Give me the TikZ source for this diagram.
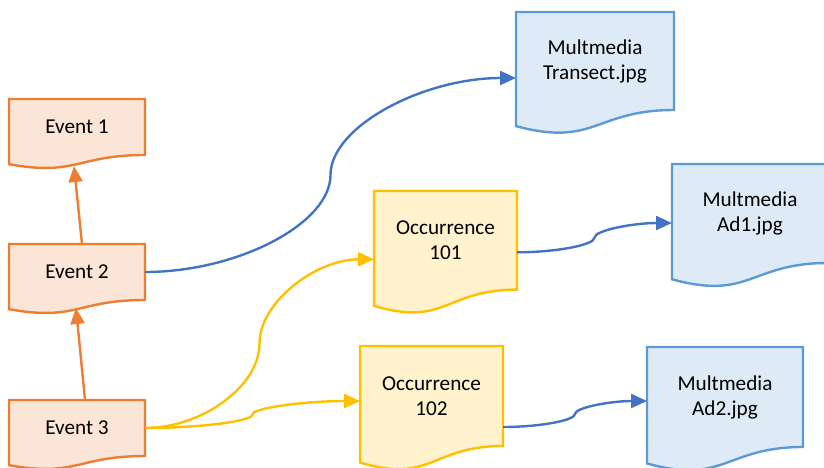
\documentclass[tikz,border=0pt]{standalone}
\usepackage{fontspec}
\setmainfont{Carlito}
\usetikzlibrary{arrows.meta,calc,backgrounds}

\definecolor{eventline}{HTML}{ED7D31}
\definecolor{eventfill}{HTML}{FBE5D6}
\definecolor{occline}{HTML}{FFC000}
\definecolor{occfill}{HTML}{FFF2CC}
\definecolor{medialine}{HTML}{5B9BD5}
\definecolor{mediafill}{HTML}{DEEBF7}
\definecolor{linkblue}{HTML}{4472C4}

\tikzset{
  docbox/.style={anchor=north west, inner sep=2pt, outer sep=0pt, align=center,
    font=\fontsize{10.6}{12.5}\selectfont},
  curved conn/.style={to path={let \p1=(\tikztostart), \p2=(\tikztotarget) in
    .. controls ({0.75*\x1+0.25*\x2},\y1) and ({0.5*\x1+0.5*\x2},{0.75*\y1+0.25*\y2})
    .. ({0.5*\x1+0.5*\x2},{0.5*\y1+0.5*\y2})
    .. controls ({0.5*\x1+0.5*\x2},{0.25*\y1+0.75*\y2}) and ({0.25*\x1+0.75*\x2},\y2)
    .. (\p2) \tikztonodes}},
  link/.style={line width=1.2pt, -{Triangle[length=8pt,width=7pt]}}
}

\begin{document}
\begin{tikzpicture}[x=0.5pt, y=-0.5pt]
\useasboundingbox (0,0) rectangle (824,467);

% events
\node[docbox, minimum width=68pt, minimum height=28pt] (ev1) at (9,99) {Event 1};
\node[docbox, minimum width=68pt, minimum height=28pt] (ev2) at (9,244) {Event 2};
\node[docbox, minimum width=68pt, minimum height=28pt] (ev3) at (9,400) {Event 3};

% occurrences
\node[docbox, minimum width=71.5pt, minimum height=49.3pt] (occ1) at (374,191) {Occurrence\\101};
\node[docbox, minimum width=71.5pt, minimum height=50pt] (occ2) at (360,346) {Occurrence\\102};

% multimedia
\node[docbox, minimum width=79pt, minimum height=49pt] (trans) at (516,12) {Multmedia\\Transect.jpg};
\node[docbox, minimum width=78pt, minimum height=49.5pt] (ad1) at (672,164) {Multmedia\\Ad1.jpg};
\node[docbox, minimum width=78pt, minimum height=50pt] (ad2) at (647,347) {Multmedia\\Ad2.jpg};

% forme documento
\begin{scope}[on background layer]
\foreach \n/\f/\d in {ev1/eventfill/eventline, ev2/eventfill/eventline, ev3/eventfill/eventline,
    occ1/occfill/occline, occ2/occfill/occline,
    trans/mediafill/medialine, ad1/mediafill/medialine, ad2/mediafill/medialine} {
  \filldraw[fill=\f, draw=\d, line width=1.2pt]
    (\n.north west) -- (\n.north east) -- (\n.south east)
    .. controls (\n.south) and ($(\n.south)!-0.381!(\n.north)$)
    .. ($(\n.south west)!-0.1645!(\n.north west)$) -- cycle;
}
\end{scope}

% frecce
\draw[link, eventline] ([xshift=2.5pt]ev2.north) -- ([xshift=-1.5pt,yshift=-5.5pt]ev1.south);
\draw[link, eventline] ([xshift=4pt]ev3.north) -- ([xshift=-0.5pt,yshift=-4pt]ev2.south);

\draw[link, linkblue] (ev2.east) to[curved conn] ([yshift=-8.5pt]trans.west);
\draw[link, linkblue] ([yshift=-6pt]occ1.east) to[curved conn] ([yshift=-4.75pt]ad1.west);
\draw[link, linkblue] ([yshift=-15.5pt]occ2.east) to[curved conn] ([yshift=-2pt]ad2.west);

\draw[link, occline] (ev3.east) to[curved conn] ([yshift=-9.5pt]occ1.west);
\draw[link, occline] (ev3.east) to[curved conn] ([yshift=-2.5pt]occ2.west);

\end{tikzpicture}
\end{document}
